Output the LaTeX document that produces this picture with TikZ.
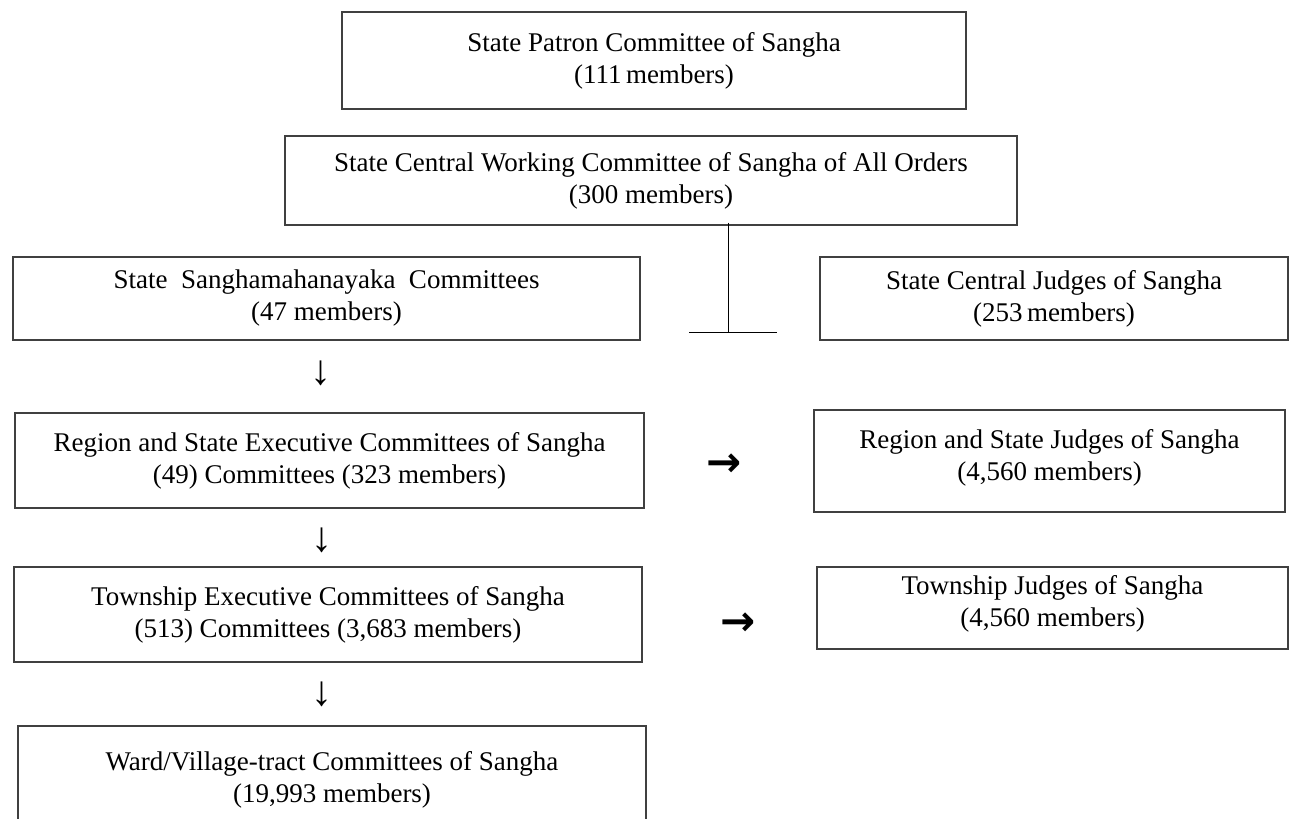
\documentclass[tikz,border=0pt]{standalone}
\usepackage{fontspec}
\setmainfont{Liberation Serif}
\newfontfamily\arrowfont{DejaVu Sans}
\usetikzlibrary{positioning}

\begin{document}
\begin{tikzpicture}[x=0.5pt,y=-0.5pt,
    box/.style={draw=black!75,line width=0.7pt,align=center,inner sep=0pt,
      font=\fontsize{13.5}{16}\selectfont},
    down/.style={font=\fontsize{21}{22}\selectfont,inner sep=0pt,anchor=base},
    side/.style={font=\arrowfont\bfseries\fontsize{21}{24}\selectfont,inner sep=0pt,anchor=base}]

    \useasboundingbox (0,0) rectangle (1291,819);
    \clip (0,0) rectangle (1291,819);

    % the committees
    \node[box,minimum width=312pt,minimum height=48.5pt] (patron) at (654,60.5)
      {State Patron Committee of Sangha\\(111\,members)};
    \node[box,minimum width=366pt,minimum height=44.5pt] (working) at (651,180.5)
      {State Central Working Committee of Sangha of All Orders\\(300 members)};
    \node[box,minimum width=313.5pt,minimum height=41.5pt] (maha) at (326.5,298.5)
      {State~~Sanghamahanayaka~~Committees\\(47 members)};
    \node[box,minimum width=314.5pt,minimum height=47.5pt] (region) at (329.5,460.5)
      {Region and State Executive Committees of Sangha\\(49) Committees (323 members)};
    \node[box,minimum width=314pt,minimum height=47.5pt] (township) at (328,614.5)
      {Township Executive Committees of Sangha\\(513) Committees (3,683 members)};
    \node[box,minimum width=314pt,minimum height=54pt] (ward) at (332,780)
      {Ward/Village-tract Committees of Sangha\\(19,993 members)};

    % the judges
    \node[box,minimum width=234pt,minimum height=41.5pt] (cjudges) at (1054,298.5)
      {State Central Judges of Sangha\\(253\,members)};
    \node[box,minimum width=235.5pt,minimum height=51pt,text depth=6pt] (rjudges) at (1049.5,461)
      {Region and State Judges of Sangha\\(4,560 members)};
    \node[box,minimum width=235.5pt,minimum height=41pt,text depth=7pt] (tjudges) at (1052.5,608)
      {Township Judges of Sangha\\(4,560 members)};

    % the T below the working committee
    \coordinate (tjoin) at (728,332);
    \coordinate (tleft) at (689,332);
    \coordinate (tright) at (777,332);
    \draw[line width=0.5pt] ([yshift=1.5pt]working.south -| tjoin) -- (tjoin);
    \draw[line width=0.5pt] (tleft) -- (tright);

    % the arrows
    \node[down] (d1) at (321,384) {↓};
    \node[down] (d2) at (322,551) {↓};
    \node[down] (d3) at (322,705) {↓};
    \node[side] (r1) at (724,476) {→};
    \node[side] (r2) at (738,635) {→};

  \end{tikzpicture}
\end{document}
